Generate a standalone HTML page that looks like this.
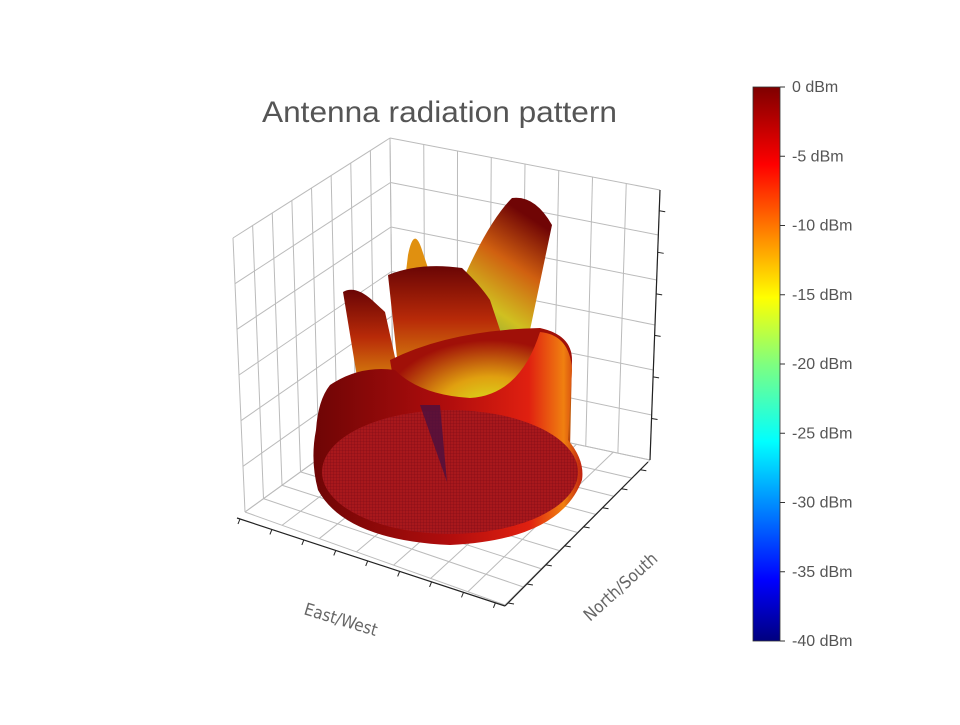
<!DOCTYPE html>
<html><head><meta charset="utf-8"><style>
body{margin:0;background:#fff}
svg text{font-family:"Liberation Sans",sans-serif}
</style></head><body>
<svg width="960" height="720" viewBox="0 0 960 720">
<defs>
<linearGradient id="jet" x1="0" y1="1" x2="0" y2="0">
<stop offset="0" stop-color="#00007f"/><stop offset="0.11" stop-color="#0000ff"/><stop offset="0.36" stop-color="#00ffff"/><stop offset="0.5" stop-color="#7fff7f"/><stop offset="0.62" stop-color="#ffff00"/><stop offset="0.86" stop-color="#ff0000"/><stop offset="1" stop-color="#7f0000"/>
</linearGradient>
<linearGradient id="ring" x1="0" y1="0" x2="1" y2="0">
<stop offset="0" stop-color="#6e0505"/><stop offset="0.5" stop-color="#b00d0d"/><stop offset="0.8" stop-color="#e02010"/><stop offset="0.93" stop-color="#f08010"/><stop offset="1" stop-color="#c02010"/>
</linearGradient>
<radialGradient id="bowl" cx="0.55" cy="0.7" r="0.6">
<stop offset="0" stop-color="#d8ee20"/><stop offset="0.5" stop-color="#e0a010"/><stop offset="1" stop-color="#a01008"/>
</radialGradient>
<linearGradient id="lobeR" x1="0" y1="1" x2="0.4" y2="0">
<stop offset="0" stop-color="#7aa040"/><stop offset="0.3" stop-color="#d0c020"/><stop offset="0.65" stop-color="#d06010"/><stop offset="1" stop-color="#700505"/>
</linearGradient>
<linearGradient id="lobeC" x1="0" y1="0" x2="0" y2="1">
<stop offset="0" stop-color="#6a0505"/><stop offset="0.45" stop-color="#b82a08"/><stop offset="1" stop-color="#e0a010"/>
</linearGradient>
<pattern id="mesh" width="3" height="3" patternUnits="userSpaceOnUse"><path d="M0 0H3M0 0V3" stroke="#5a0010" stroke-width="0.6" opacity="0.6"/></pattern>
</defs>
<g id="grid"></g>
<text x="262" y="122" font-size="30" textLength="355" lengthAdjust="spacingAndGlyphs" fill="#555">Antenna radiation pattern</text>
<g>
<path d="M343 292 Q355 285 372 300 L385 312 L400 380 L360 395 Z" fill="url(#lobeC)"/>
<path d="M408 255 Q414 225 422 250 L432 280 L405 280 Z" fill="#e09010"/>
<path d="M465 275 Q490 220 512 198 Q535 195 552 225 L530 330 L505 340 Z" fill="url(#lobeR)"/>
<path d="M388 275 Q420 262 462 268 Q480 285 490 300 L505 345 L480 385 L400 385 Z" fill="url(#lobeC)"/>
<path d="M390 360 Q450 330 540 328 Q572 335 572 360 L570 450 L500 430 L400 420 Z" fill="url(#bowl)"/>
<path d="M330 385 Q360 365 395 370 Q420 395 470 398 Q520 395 540 332 Q570 335 572 370 L568 440 Q585 460 582 480 Q560 540 450 545 Q345 540 318 490 Q310 460 316 430 Q318 400 330 385 Z" fill="url(#ring)"/>
<ellipse cx="450" cy="472" rx="128" ry="62" fill="#a8181c"/>
<ellipse cx="450" cy="472" rx="128" ry="62" fill="url(#mesh)"/>
<path d="M420 405 L440 405 L447 482 Z" fill="#4a1040" opacity="0.8"/>
</g>
<g>
<rect x="753" y="87" width="27" height="554" fill="url(#jet)" stroke="#333" stroke-width="0.8"/>
<g id="cbticks"></g>
</g>
<text x="0" y="0" font-size="17" fill="#666" transform="translate(303,614) rotate(17)" style="font-family:'DejaVu Sans Condensed',sans-serif">East/West</text>
<text x="0" y="0" font-size="17" fill="#666" transform="translate(590,622) rotate(-42)" style="font-family:'DejaVu Sans Condensed',sans-serif">North/South</text>
</svg>
<script>
const cbLabels=["0 dBm","-5 dBm","-10 dBm","-15 dBm","-20 dBm","-25 dBm","-30 dBm","-35 dBm","-40 dBm"];
const cbValues=[0,-5,-10,-15,-20,-25,-30,-35,-40];
const NS="http://www.w3.org/2000/svg";
function mk(t,a,p){const e=document.createElementNS(NS,t);for(const k in a)e.setAttribute(k,a[k]);p.appendChild(e);return e;}
const cb=document.getElementById('cbticks');
const cy=v=>87+(0-v)/40*554;
cbValues.forEach((v,i)=>{
 const y=cy(v);
 const l=mk('line',{x1:780,x2:785,y1:y,y2:y,stroke:'#333'},cb);
 
 
 const t=mk('text',{x:792,y:y+5,'font-size':16,fill:'#555'},cb);
 t.textContent=cbLabels[i];
 
 
});
const g=document.getElementById('grid');
function lerp(a,b,t){return [a[0]+(b[0]-a[0])*t,a[1]+(b[1]-a[1])*t];}
function quad(p00,p10,p01,p11,nu,nv){
 for(let i=0;i<=nu;i++){const t=i/nu;const a=lerp(p00,p10,t),b=lerp(p01,p11,t);mk('line',{x1:a[0],y1:a[1],x2:b[0],y2:b[1],stroke:'#bbb','stroke-width':1},g);}
 for(let j=0;j<=nv;j++){const t=j/nv;const a=lerp(p00,p01,t),b=lerp(p10,p11,t);mk('line',{x1:a[0],y1:a[1],x2:b[0],y2:b[1],stroke:'#bbb','stroke-width':1},g);}
}
const TL=[233,238],BL=[245,512],BB=[393,405],BT=[390,138],RT=[660,190],RB=[650,460],F=[505,605];
quad(TL,BT,BL,BB,8,6);
quad(BT,RT,BB,RB,8,6);
quad(BL,BB,F,RB,8,7);
mk('line',{x1:RT[0],y1:RT[1],x2:RB[0],y2:RB[1],stroke:'#222','stroke-width':1.2},g);
mk('line',{x1:237,y1:518,x2:505,y2:606,stroke:'#222','stroke-width':1.2},g);
mk('line',{x1:505,y1:606,x2:648,y2:462,stroke:'#222','stroke-width':1.2},g);
for(let i=1;i<=6;i++){const p=lerp(RB,RT,i/6.5);mk('line',{x1:p[0],y1:p[1],x2:p[0]+6,y2:p[1]+1,stroke:'#222'},g);}
for(let i=0;i<9;i++){const p=lerp([240,519],[505,606],i/8.3);mk('line',{x1:p[0],y1:p[1],x2:p[0]-2,y2:p[1]+5,stroke:'#222'},g);}
for(let i=0;i<8;i++){const p=lerp([508,603],[646,464],i/7.3);mk('line',{x1:p[0],y1:p[1],x2:p[0]+6,y2:p[1]+1,stroke:'#222'},g);}
</script>
</body></html>
